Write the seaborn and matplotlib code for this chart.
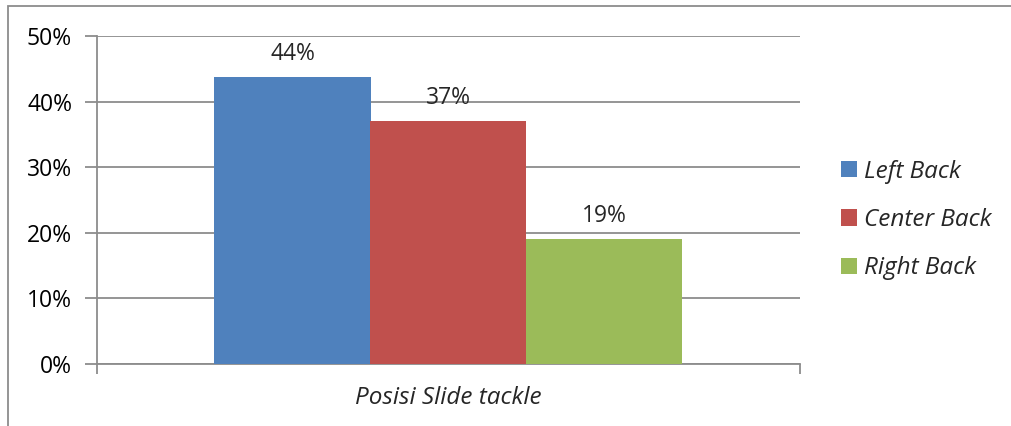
import matplotlib
matplotlib.use("Agg")
import matplotlib.pyplot as plt
import seaborn as sns
import pandas as pd
from matplotlib.patches import Rectangle, Patch
from matplotlib.ticker import FuncFormatter

# data
positions = ["Left Back", "Center Back", "Right Back"]
values = [43.75, 37.0, 19.05]
labels = ["44%", "37%", "19%"]
category = "Posisi Slide tackle"
colors = ["#4F81BD", "#C0504D", "#9BBB59"]

df = pd.DataFrame({"cat": [category] * 3, "pos": positions, "val": values})

sns.set_theme(style="white")
plt.rcParams["font.family"] = ["Open Sans", "DejaVu Sans"]

fig = plt.figure(figsize=(10.11, 4.26), dpi=100)
W, H = 1011, 426
ax = fig.add_axes([97 / W, 1 - 364 / H, (800 - 97) / W, (364 - 36) / H])

sns.barplot(data=df, x="cat", y="val", hue="pos", palette=colors,
            width=468 / 703, gap=0, saturation=1, ax=ax, legend=False,
            edgecolor="none", zorder=3)

ax.set_xlim(-0.5, 0.5)
ax.set_ylim(0, 50)
ax.set_yticks([0, 10, 20, 30, 40, 50])
ax.yaxis.set_major_formatter(FuncFormatter(lambda v, p: f"{int(v)}%"))
ax.yaxis.grid(True, color="#8c8c8c", linewidth=1.3, zorder=0)
ax.set_axisbelow(True)

for s in ["top", "right"]:
    ax.spines[s].set_visible(False)
for s in ["left", "bottom"]:
    ax.spines[s].set_color("#8c8c8c")
    ax.spines[s].set_linewidth(1.3)

ax.tick_params(axis="y", which="major", length=9, width=1.3, color="#8c8c8c",
               labelsize=16.5, pad=9, left=True, labelcolor="black")
ax.set_xticks([-0.5, 0.5])
ax.set_xticklabels(["", ""])
ax.tick_params(axis="x", length=7, width=1.3, color="#8c8c8c", bottom=True)
ax.set_ylabel("")
ax.set_xlabel("")
fig.text(448 / W, 1 - 398 / H, category, ha="center", va="center",
         fontsize=17.5, style="italic")

for bar, lab in zip(ax.patches, labels):
    ax.annotate(lab, (bar.get_x() + bar.get_width() / 2, bar.get_height()),
                xytext=(0, 8), textcoords="offset points", ha="center",
                va="bottom", fontsize=16.5)

handles = [Patch(facecolor=c, edgecolor="none") for c in colors]
leg = fig.legend(handles, positions, loc="center left",
                 bbox_to_anchor=(819 / W, 1 - 220 / H), frameon=False,
                 prop={"size": 17.5, "style": "italic"}, handlelength=0.66,
                 handleheight=0.66, handletextpad=0.3, labelspacing=1.0)

fig.patches.append(Rectangle((8 / W, -0.1), 1.1, 1 - 6 / H + 0.1,
                             transform=fig.transFigure, fill=False,
                             edgecolor="#8c8c8c", linewidth=1.3))

fig.savefig("out.png", dpi=100)
